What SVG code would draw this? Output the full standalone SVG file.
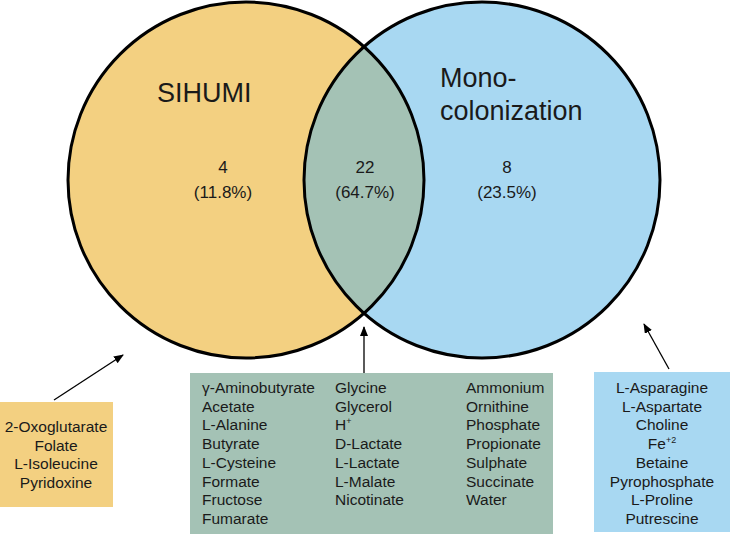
<svg xmlns="http://www.w3.org/2000/svg" width="735" height="536" viewBox="0 0 735 536">
<style>
text{font-family:"Liberation Sans",Arial,sans-serif;fill:#1a1a1a}
.t{font-size:27px}
.n{font-size:17px;text-anchor:middle}
.l{font-size:15.5px}
.c{text-anchor:middle}
.circ{stroke:#000;stroke-width:3;fill:none}
.arr{stroke:#000;stroke-width:1.3;fill:none;marker-end:url(#ah)}
</style>
<defs>
<marker id="ah" markerWidth="10" markerHeight="10" refX="9" refY="4" orient="auto" markerUnits="userSpaceOnUse">
<path d="M0,0 L10,4 L0,8 Z" fill="#000"/>
</marker>
<clipPath id="cl"><circle cx="246" cy="180" r="178"/></clipPath>
</defs>
<g id="venn">
<circle cx="246" cy="180" r="178" fill="#F3D081"/>
<circle cx="482" cy="180" r="178" fill="#A8D8F2"/>
<circle cx="482" cy="180" r="178" fill="#A4C2B5" clip-path="url(#cl)"/>
<circle class="circ" cx="246" cy="180" r="178"/>
<circle class="circ" cx="482" cy="180" r="178"/>
</g>
<g id="sihumi">
<text class="t" x="157" y="102">SIHUMI</text>
<text class="n" x="223" y="173">4</text>
<text class="n" x="223" y="198">(11.8%)</text>
</g>
<g id="shared">
<text class="n" x="365" y="173">22</text>
<text class="n" x="365" y="198">(64.7%)</text>
</g>
<g id="mono">
<text class="t" x="440" y="87">Mono-</text>
<text class="t" x="440" y="120">colonization</text>
<text class="n" x="507" y="173">8</text>
<text class="n" x="507" y="198">(23.5%)</text>
</g>
<g id="connectors">
<line class="arr" x1="54" y1="400" x2="123" y2="355"/>
<line class="arr" x1="364" y1="373" x2="364" y2="327"/>
<line class="arr" x1="669" y1="369" x2="644" y2="324"/>
</g>
<g id="box-sihumi">
<rect x="0" y="402" width="113" height="105" fill="#F3D081"/>
<text class="l c" x="56" y="432">2-Oxoglutarate</text>
<text class="l c" x="56" y="450.5">Folate</text>
<text class="l c" x="56" y="469">L-Isoleucine</text>
<text class="l c" x="56" y="487.5">Pyridoxine</text>
</g>
<g id="box-shared">
<rect x="190" y="373" width="363" height="161" fill="#A4C2B5"/>
<text class="l" x="202" y="393">γ-Aminobutyrate</text>
<text class="l" x="202" y="411.7">Acetate</text>
<text class="l" x="202" y="430.4">L-Alanine</text>
<text class="l" x="202" y="449.1">Butyrate</text>
<text class="l" x="202" y="467.8">L-Cysteine</text>
<text class="l" x="202" y="486.5">Formate</text>
<text class="l" x="202" y="505.2">Fructose</text>
<text class="l" x="202" y="523.9">Fumarate</text>
<text class="l" x="335" y="393">Glycine</text>
<text class="l" x="335" y="411.7">Glycerol</text>
<text class="l" x="335" y="430.4">H<tspan font-size="9" dy="-6">+</tspan></text>
<text class="l" x="335" y="449.1">D-Lactate</text>
<text class="l" x="335" y="467.8">L-Lactate</text>
<text class="l" x="335" y="486.5">L-Malate</text>
<text class="l" x="335" y="505.2">Nicotinate</text>
<text class="l" x="466" y="393">Ammonium</text>
<text class="l" x="466" y="411.7">Ornithine</text>
<text class="l" x="466" y="430.4">Phosphate</text>
<text class="l" x="466" y="449.1">Propionate</text>
<text class="l" x="466" y="467.8">Sulphate</text>
<text class="l" x="466" y="486.5">Succinate</text>
<text class="l" x="466" y="505.2">Water</text>
</g>
<g id="box-mono">
<rect x="594" y="372" width="136" height="160" fill="#A8D8F2"/>
<text class="l c" x="662" y="393">L-Asparagine</text>
<text class="l c" x="662" y="411.7">L-Aspartate</text>
<text class="l c" x="662" y="430.4">Choline</text>
<text class="l c" x="662" y="449.1">Fe<tspan font-size="9" dy="-6">+2</tspan></text>
<text class="l c" x="662" y="467.8">Betaine</text>
<text class="l c" x="662" y="486.5">Pyrophosphate</text>
<text class="l c" x="662" y="505.2">L-Proline</text>
<text class="l c" x="662" y="523.9">Putrescine</text>
</g>
</svg>
